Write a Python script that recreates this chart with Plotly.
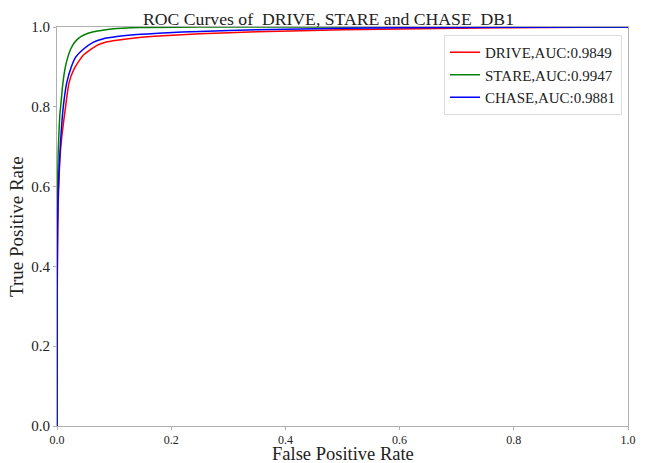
import plotly.graph_objects as go

drive_fpr = [0, 0.0003, 0.001, 0.002, 0.005, 0.008, 0.015, 0.021, 0.03, 0.046, 0.07, 0.085, 0.105, 0.14, 0.186, 0.25, 0.35, 0.5, 0.7, 0.85, 1.0]
drive_tpr = [0, 0.30, 0.45, 0.55, 0.667, 0.72, 0.80, 0.86, 0.895, 0.929, 0.954, 0.962, 0.967, 0.973, 0.978, 0.983, 0.988, 0.993, 0.997, 0.999, 1.0]

stare_fpr = [0, 0.0003, 0.001, 0.002, 0.003, 0.005, 0.007, 0.010, 0.014, 0.018, 0.024, 0.03, 0.037, 0.047, 0.064, 0.08, 0.104, 0.13, 0.16, 0.25, 1.0]
stare_tpr = [0, 0.45, 0.60, 0.68, 0.72, 0.78, 0.81, 0.855, 0.895, 0.92, 0.945, 0.96, 0.971, 0.98, 0.988, 0.992, 0.996, 0.998, 0.999, 1.0, 1.0]

chase_fpr = [0, 0.0003, 0.001, 0.002, 0.0045, 0.007, 0.011, 0.017, 0.025, 0.033, 0.045, 0.064, 0.08, 0.105, 0.14, 0.186, 0.25, 0.35, 0.5, 0.7, 1.0]
chase_tpr = [0, 0.35, 0.50, 0.58, 0.667, 0.73, 0.80, 0.86, 0.90, 0.925, 0.943, 0.962, 0.97, 0.976, 0.981, 0.985, 0.989, 0.993, 0.997, 0.999, 1.0]

names = ["DRIVE,AUC:0.9849", "STARE,AUC:0.9947", "CHASE,AUC:0.9881"]
colors = ["#ff0000", "#008000", "#0000ff"]
tick_vals = [0, 0.2, 0.4, 0.6, 0.8, 1.0]
tick_text = ["0.0", "0.2", "0.4", "0.6", "0.8", "1.0"]
title_text = "ROC Curves of&nbsp; DRIVE, STARE and CHASE&nbsp; DB1"
x_title = "False Positive Rate"
y_title = "True Positive Rate"

font = "Liberation Serif, Times New Roman, serif"

fig = go.Figure()
for fx, fy, n, c in [(drive_fpr, drive_tpr, names[0], colors[0]),
                     (stare_fpr, stare_tpr, names[1], colors[1]),
                     (chase_fpr, chase_tpr, names[2], colors[2])]:
    fig.add_trace(go.Scatter(x=fx, y=fy, mode="lines", name=n, legendgroup=n,
                             line=dict(color=c, width=1.5, shape="spline", smoothing=0.6)))

axis_common = dict(range=[0, 1], tickvals=tick_vals, ticktext=tick_text, automargin=False,
                   showgrid=False, zeroline=False, showline=True, mirror=True,
                   linecolor="#b0b0b0", linewidth=1, ticks="outside", ticklen=3,
                   tickcolor="#b0b0b0")

fig.update_layout(
    width=657, height=463,
    margin=dict(l=57, r=29, t=27, b=37),
    paper_bgcolor="white", plot_bgcolor="white",
    font=dict(family=font, color="#222"),
    title=dict(text=title_text, x=0.5, xanchor="center",
               y=0.959, yanchor="middle", font=dict(size=17.7, family=font, color="#222")),
    xaxis=dict(tickfont=dict(size=12, color="#222"), **axis_common),
    yaxis=dict(tickfont=dict(size=15, color="#222"), **axis_common),
    legend=dict(x=0.9895, y=0.98, xanchor="right", yanchor="top",
                bgcolor="white", bordercolor="#dddddd", borderwidth=1,
                traceorder="grouped", tracegroupgap=0,
                font=dict(size=15, family=font, color="#222")),
    showlegend=True,
)

fig.add_annotation(text=x_title, xref="paper", yref="paper", x=0.5, y=0,
                   xanchor="center", yanchor="top", yshift=-16, showarrow=False,
                   font=dict(size=18.5, family=font, color="#222"))
fig.add_annotation(text=y_title, xref="paper", yref="paper", x=0, y=0.5,
                   xanchor="right", yanchor="middle", xshift=-28, textangle=-90,
                   showarrow=False, font=dict(size=19, family=font, color="#222"))

fig.write_html("out.html", config={"displayModeBar": False},
               post_script="document.body.style.margin='0px';")
